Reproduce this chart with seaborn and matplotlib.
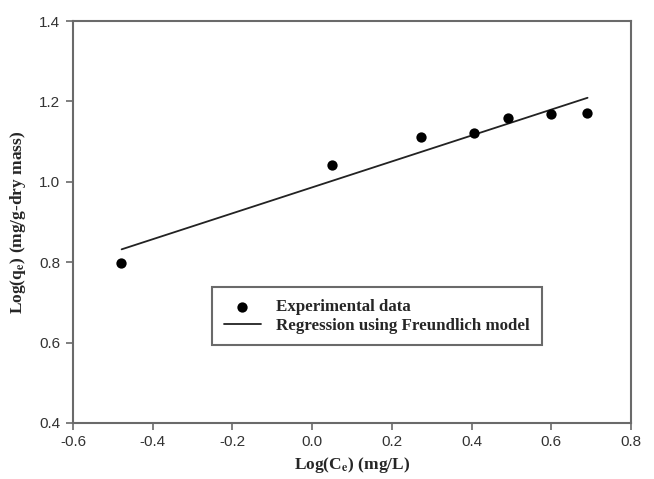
import numpy as np
import pandas as pd
import matplotlib
matplotlib.use("Agg")
import matplotlib.pyplot as plt
import seaborn as sns

# Data
log_ce = [-0.48, 0.05, 0.274, 0.406, 0.491, 0.599, 0.689]
log_qe = [0.797, 1.041, 1.112, 1.122, 1.158, 1.169, 1.172]

# Freundlich regression line end points
fit_x = [-0.478, 0.691]
fit_y = [0.832, 1.209]

sns.set_style("ticks")
plt.rcParams['font.family'] = ['Liberation Sans', 'DejaVu Sans']
plt.rcParams['mathtext.fontset'] = 'stix'

fig = plt.figure(figsize=(6.54, 4.79), dpi=100)
ax = fig.add_axes([73 / 654, 1 - 423 / 479, 558 / 654, 402 / 479])

sns.lineplot(x=fit_x, y=fit_y, ax=ax, color='#222222', linewidth=1.3,
             label='Regression using Freundlich model')
sns.scatterplot(x=log_ce, y=log_qe, ax=ax, color='black', s=55,
                edgecolor='black', linewidth=0, label='Experimental data',
                zorder=3)

ax.set_xlim(-0.6, 0.8)
ax.set_ylim(0.4, 1.4)
ax.set_xticks(np.arange(-0.6, 0.81, 0.2))
ax.set_yticks(np.arange(0.4, 1.41, 0.2))
ax.xaxis.set_major_formatter(matplotlib.ticker.FormatStrFormatter('%.1f'))
ax.yaxis.set_major_formatter(matplotlib.ticker.FormatStrFormatter('%.1f'))

spine_col = '#6a6a6a'
for s in ax.spines.values():
    s.set_visible(True)
    s.set_color(spine_col)
    s.set_linewidth(1.5)
ax.tick_params(direction='out', length=5, width=1.2, color=spine_col,
               labelsize=11, labelcolor='#333333', pad=4)

ax.set_xlabel(r'Log(C$_{\mathbf{e}}$) (mg/L)', fontsize=12.5, fontweight='bold',
              family='Liberation Serif', labelpad=4)
ax.set_ylabel(r'Log(q$_{\mathbf{e}}$) (mg/g-dry mass)', fontsize=12.5,
              fontweight='bold', family='Liberation Serif', labelpad=8)

handles, labels = ax.get_legend_handles_labels()
leg = ax.legend(handles[::-1], labels[::-1], loc='upper left',
                bbox_to_anchor=(0.249, 0.338), borderaxespad=0,
                fancybox=False, framealpha=1, edgecolor=spine_col,
                prop={'family': 'Liberation Serif', 'weight': 'bold', 'size': 12.2},
                handlelength=2.2, handletextpad=0.9, borderpad=0.7,
                labelspacing=0.15)
leg.get_frame().set_linewidth(1.5)

fig.savefig('out.png', dpi=100)
